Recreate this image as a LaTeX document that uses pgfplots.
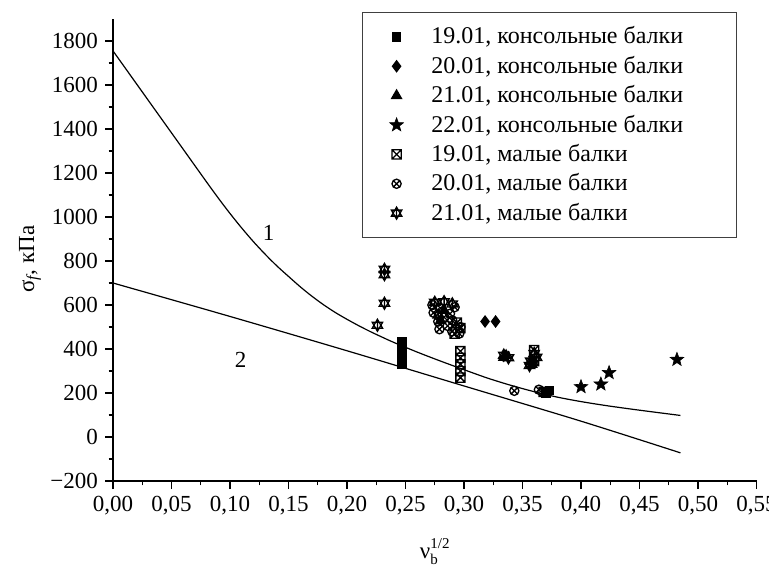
\documentclass[border=0pt]{standalone}
\usepackage{fontspec}
\setmainfont{Liberation Serif}
\usepackage{pgfplots}
\pgfplotsset{compat=1.18}

\pgfdeclareplotmark{boxx}{%
  \pgfpathrectangle{\pgfpoint{-\pgfplotmarksize}{-\pgfplotmarksize}}{\pgfpoint{2\pgfplotmarksize}{2\pgfplotmarksize}}%
  \pgfpathmoveto{\pgfpoint{-\pgfplotmarksize}{-\pgfplotmarksize}}\pgfpathlineto{\pgfpoint{\pgfplotmarksize}{\pgfplotmarksize}}%
  \pgfpathmoveto{\pgfpoint{-\pgfplotmarksize}{\pgfplotmarksize}}\pgfpathlineto{\pgfpoint{\pgfplotmarksize}{-\pgfplotmarksize}}%
  \pgfusepathqstroke}
\pgfdeclareplotmark{circx}{%
  \pgfpathcircle{\pgfpointorigin}{\pgfplotmarksize}%
  \pgfpathmoveto{\pgfpoint{-0.707\pgfplotmarksize}{-0.707\pgfplotmarksize}}\pgfpathlineto{\pgfpoint{0.707\pgfplotmarksize}{0.707\pgfplotmarksize}}%
  \pgfpathmoveto{\pgfpoint{-0.707\pgfplotmarksize}{0.707\pgfplotmarksize}}\pgfpathlineto{\pgfpoint{0.707\pgfplotmarksize}{-0.707\pgfplotmarksize}}%
  \pgfusepathqstroke}
\pgfdeclareplotmark{david}{%
  \pgfpathmoveto{\pgfpoint{0pt}{\pgfplotmarksize}}%
  \pgfpathlineto{\pgfpoint{0.866\pgfplotmarksize}{-0.5\pgfplotmarksize}}%
  \pgfpathlineto{\pgfpoint{-0.866\pgfplotmarksize}{-0.5\pgfplotmarksize}}\pgfpathclose
  \pgfpathmoveto{\pgfpoint{0pt}{-\pgfplotmarksize}}%
  \pgfpathlineto{\pgfpoint{0.866\pgfplotmarksize}{0.5\pgfplotmarksize}}%
  \pgfpathlineto{\pgfpoint{-0.866\pgfplotmarksize}{0.5\pgfplotmarksize}}\pgfpathclose
  \pgfpathmoveto{\pgfpoint{0pt}{-\pgfplotmarksize}}\pgfpathlineto{\pgfpoint{0pt}{\pgfplotmarksize}}%
  \pgfusepathqstroke}
\pgfdeclareplotmark{fstar}{%
  \pgfpathmoveto{\pgfpoint{0pt}{\pgfplotmarksize}}%
  \pgfpathlineto{\pgfpoint{-0.247\pgfplotmarksize}{0.340\pgfplotmarksize}}%
  \pgfpathlineto{\pgfpoint{-0.951\pgfplotmarksize}{0.309\pgfplotmarksize}}%
  \pgfpathlineto{\pgfpoint{-0.399\pgfplotmarksize}{-0.130\pgfplotmarksize}}%
  \pgfpathlineto{\pgfpoint{-0.588\pgfplotmarksize}{-0.809\pgfplotmarksize}}%
  \pgfpathlineto{\pgfpoint{0pt}{-0.42\pgfplotmarksize}}%
  \pgfpathlineto{\pgfpoint{0.588\pgfplotmarksize}{-0.809\pgfplotmarksize}}%
  \pgfpathlineto{\pgfpoint{0.399\pgfplotmarksize}{-0.130\pgfplotmarksize}}%
  \pgfpathlineto{\pgfpoint{0.951\pgfplotmarksize}{0.309\pgfplotmarksize}}%
  \pgfpathlineto{\pgfpoint{0.247\pgfplotmarksize}{0.340\pgfplotmarksize}}%
  \pgfpathclose
  \pgfusepathqfillstroke}

\pgfplotsset{
  mk/.style={only marks, black, mark options={solid, line width=0.65pt, fill=black},
    legend image code/.code={\draw[mark repeat=2,mark phase=2,##1] plot coordinates {(0pt,0pt)(8pt,0pt)(16pt,0pt)};}},
}

\begin{document}
\begin{tikzpicture}
\begin{axis}[
  at={(56.5pt,41.5pt)}, anchor=south west,
  scale only axis, width=321.75pt, height=231pt,
  xmin=0, xmax=0.55, ymin=-200, ymax=1900,
  axis lines=left, axis line style={-, line width=0.75pt},
  xtick={0,0.05,0.10,0.15,0.20,0.25,0.30,0.35,0.40,0.45,0.50,0.55},
  xticklabels={{0,00},{0,05},{0,10},{0,15},{0,20},{0,25},{0,30},{0,35},{0,40},{0,45},{0,50},{0,55}},
  ytick={-200,0,200,400,600,800,1000,1200,1400,1600,1800},
  yticklabels={−200,0,200,400,600,800,1000,1200,1400,1600,1800},
  minor x tick num=1, minor y tick num=1,
  tick align=outside, major tick length=4pt, minor tick length=2.2pt,
  tick style={black, line width=0.6pt},
  ticklabel style={font=\fontsize{11.5}{13}\selectfont},
  xlabel={ν\rlap{\raisebox{-3pt}{\fontsize{7.5}{8}\selectfont b}}\raisebox{5pt}{\fontsize{7.5}{8}\selectfont 1/2}},
  ylabel={σ\textsubscript{\itshape f}, кПа},
  label style={font=\fontsize{11.5}{13}\selectfont},
  xlabel style={at={(axis description cs:0.5,0)}, anchor=center, yshift=-35.5pt},
  ylabel style={at={(axis description cs:0,0.48)}, anchor=center, yshift=41.5pt},
  legend style={at={(0.387,1.015)}, anchor=north west, draw=black!75, line width=0.7pt,
    font=\fontsize{12}{14}\selectfont, inner xsep=13.5pt, inner ysep=5pt, row sep=0.6pt,
    /tikz/every odd column/.append style={column sep=12pt}},
  legend cell align=left,
  clip=false,
]
\addplot[mk, mark=square*, mark size=2pt] coordinates {
 (0.247,330) (0.247,345) (0.247,360) (0.247,375) (0.247,390) (0.247,405) (0.247,420) (0.247,435)
 (0.370,200) (0.373,210)};
\addlegendentry{\makebox[137pt][l]{19.01, консольные балки}}
\addplot[mk, mark=diamond*, mark size=2.7pt] coordinates {(0.318,525) (0.327,525)};
\addlegendentry{20.01, консольные балки}
\addplot[mk, mark=triangle*, mark size=2.8pt] coordinates {(0.280,530) (0.283,575) (0.334,362) (0.336,370) (0.358,330)};
\addlegendentry{21.01, консольные балки}
\addplot[mk, mark=fstar, mark size=3.6pt, mark options={line width=0.3pt}] coordinates {(0.400,228) (0.417,240) (0.424,292) (0.482,352)};
\addlegendentry{22.01, консольные балки}
\addplot[mk, mark=boxx, mark size=2.3pt] coordinates {
 (0.297,270) (0.297,300) (0.297,330) (0.297,360) (0.297,390) (0.292,470) (0.297,495) (0.294,520)
 (0.360,395) (0.360,345) (0.368,205)};
\addlegendentry{19.01, малые балки}
\addplot[mk, mark=circx, mark size=2.3pt] coordinates {
 (0.273,600) (0.280,585) (0.274,565) (0.283,545) (0.278,525) (0.286,505) (0.279,490) (0.290,480)
 (0.296,470) (0.297,500) (0.288,560) (0.292,590) (0.343,210) (0.364,215) (0.290,530)};
\addlegendentry{20.01, малые балки}
\addplot[mk, mark=david, mark size=3pt] coordinates {
 (0.232,762) (0.232,738) (0.232,608) (0.226,508) (0.275,612) (0.283,615) (0.290,605) (0.278,555)
 (0.334,372) (0.338,360) (0.360,380) (0.357,345) (0.362,362) (0.356,325)};
\addlegendentry{21.01, малые балки}

\addplot[black, line width=0.6pt, smooth, forget plot] coordinates {
 (0,1755) (0.02,1606) (0.04,1457) (0.06,1308) (0.08,1159) (0.09,1086) (0.10,1016) (0.11,950)
 (0.12,888) (0.13,831) (0.14,778) (0.15,730) (0.16,683) (0.17,640) (0.18,601) (0.19,566)
 (0.20,535) (0.21,506) (0.22,479) (0.23,454) (0.24,430) (0.26,386) (0.28,345) (0.30,306)
 (0.32,268) (0.34,235) (0.36,206) (0.38,181) (0.40,161) (0.42,144) (0.44,129) (0.46,115) (0.485,98)};
\addplot[black, line width=0.6pt, smooth, forget plot] coordinates {
 (0,700) (0.1,548) (0.2,392) (0.3,232) (0.4,72) (0.485,-72)};

\node[font=\fontsize{11.5}{13}\selectfont] at (axis cs:0.133,927) {1};
\node[font=\fontsize{11.5}{13}\selectfont] at (axis cs:0.109,350) {2};
\end{axis}
\pgfresetboundingbox
\path[use as bounding box] (0,0) rectangle (384.5pt,282pt);
\end{tikzpicture}
\end{document}
